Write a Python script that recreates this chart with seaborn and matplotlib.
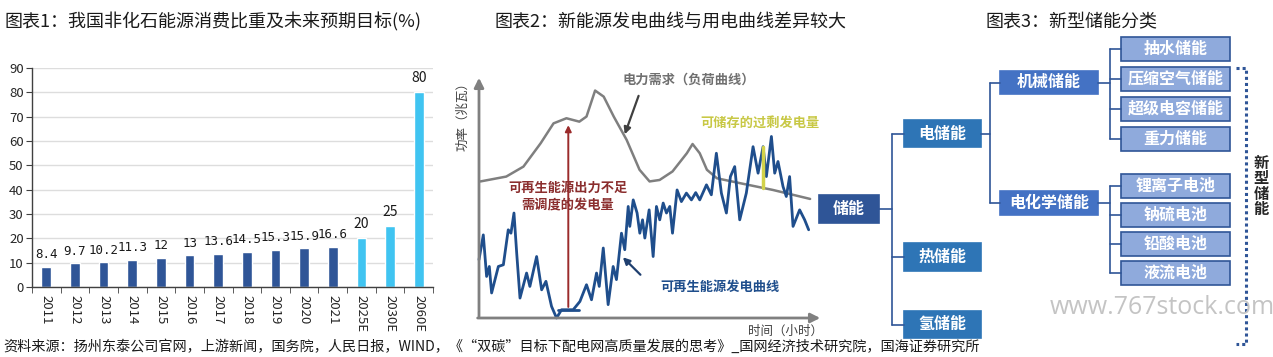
import numpy as np
import pandas as pd
import matplotlib.pyplot as plt
import seaborn as sns
from matplotlib.patches import Rectangle

# ---------------- data ----------------
# 图表1
years = ['2011', '2012', '2013', '2014', '2015', '2016', '2017', '2018', '2019',
         '2020', '2021', '2025E', '2030E', '2060E']
share = [8.4, 9.7, 10.2, 11.3, 12, 13, 13.6, 14.5, 15.3, 15.9, 16.6, 20, 25, 80]
kind = ['实际'] * 11 + ['目标'] * 3
share_labels = ['8.4', '9.7', '10.2', '11.3', '12', '13', '13.6', '14.5', '15.3',
                '15.9', '16.6', '20', '25', '80']

# 图表2 (示意图, 时间: 小时, 功率: 相对值)
demand_t = [0.1, 1.9, 3.1, 4.3, 5.2, 6.1, 7.0, 7.5, 8.1, 8.7, 9.4, 10.3, 11.2, 11.9,
            12.6, 13.5, 14.5, 14.9, 15.4, 15.9, 16.6, 18.2, 20.5, 23.1]
demand_p = [56.2, 58.2, 62.3, 71.9, 80.1, 82.2, 80.8, 82.9, 93.6, 91.1, 82.9, 73.3,
            61.0, 56.2, 56.8, 60.3, 67.8, 71.6, 67.8, 61.0, 57.5, 55.5, 52.7, 49.0]
renew_t = [0.0, 0.30, 0.53, 0.72, 0.88, 1.35, 1.70, 2.04, 2.23, 2.44, 2.63, 2.86, 3.32,
           3.55, 4.02, 4.37, 4.67, 5.06, 5.41, 5.76, 6.57, 7.04, 7.50, 7.85, 8.20, 8.39,
           8.67, 9.01, 9.36, 9.59, 9.94, 10.17, 10.41, 10.52, 10.76, 11.03, 11.22, 11.41,
           11.57, 11.87, 12.15, 12.38, 12.61, 12.85, 13.08, 13.31, 13.50, 13.82, 14.12,
           14.47, 14.82, 15.12, 15.40, 15.87, 16.21, 16.56, 16.91, 17.26, 17.54, 17.84,
           18.19, 18.65, 19.12, 19.47, 19.82, 20.05, 20.40, 20.63, 20.86, 21.21, 21.44,
           21.67, 21.91, 22.37, 22.72, 23.00]
renew_p = [24.0, 34.2, 17.1, 21.2, 10.3, 21.2, 21.9, 36.3, 34.9, 43.2, 26.7, 8.2, 18.5,
           13.0, 25.3, 11.6, 15.1, 4.8, 0.0, 3.4, 3.4, 6.8, 13.7, 7.5, 18.5, 13.0,
           28.8, 5.5, 21.2, 15.8, 34.9, 28.1, 45.9, 37.7, 48.6, 43.2, 34.9, 40.4,
           32.9, 44.5, 25.3, 45.9, 40.4, 47.3, 43.2, 45.9, 34.9, 52.7, 47.9,
           51.4, 48.6, 51.6, 48.6, 54.8, 50.7, 67.8, 51.4, 43.2, 58.2, 62.3,
           40.4, 51.4, 70.5, 59.6, 70.5, 58.2, 74.7, 59.6, 64.4, 54.1, 50.0,
           58.2, 37.7, 44.5, 40.4, 36.3]

# 图表3
root = '储能'
level1 = ['电储能', '热储能', '氢储能']
level2 = ['机械储能', '电化学储能']
mech_leaves = ['抽水储能', '压缩空气储能', '超级电容储能', '重力储能']
chem_leaves = ['锂离子电池', '钠硫电池', '铅酸电池', '液流电池']

# ---------------- style ----------------
sns.set_style('white')
plt.rcParams['font.family'] = ['Noto Sans CJK SC', 'DejaVu Sans']
plt.rcParams['axes.unicode_minus'] = False

W, H = 1273, 357
fig = plt.figure(figsize=(W / 100, H / 100), dpi=100)


def px_axes(x0, y0, x1, y1):
    # pixel box (top-left origin) -> figure axes
    return fig.add_axes([x0 / W, 1 - y1 / H, (x1 - x0) / W, (y1 - y0) / H])


# titles
fig.text(5 / W, 1 - 22 / H, '图表1：我国非化石能源消费比重及未来预期目标(%)', fontsize=13,
         va='center', ha='left', color='#1a1a1a')
fig.text(494 / W, 1 - 22 / H, '图表2：新能源发电曲线与用电曲线差异较大', fontsize=13,
         va='center', ha='left', color='#1a1a1a')
fig.text(985 / W, 1 - 22 / H, '图表3：新型储能分类', fontsize=13,
         va='center', ha='left', color='#1a1a1a')

# ---------------- chart 1 ----------------
ax1 = px_axes(32, 68, 433, 287)
df1 = pd.DataFrame({'year': years, 'share': share, 'kind': kind})
sns.barplot(data=df1, x='year', y='share', hue='kind', dodge=False, width=0.34,
            palette={'实际': '#2F5597', '目标': '#40C4F1'}, legend=False, ax=ax1,
            saturation=1)
ax1.set_ylim(0, 90)
ax1.set_xlim(-0.5, len(years) - 0.5)
ax1.set_yticks(range(0, 91, 10))
ax1.yaxis.grid(True, color='#DDDDDD', lw=1)
ax1.set_axisbelow(True)
ax1.set_xlabel('')
ax1.set_ylabel('')
for s in ['top', 'right']:
    ax1.spines[s].set_visible(False)
for s in ['left', 'bottom']:
    ax1.spines[s].set_color('#404040')
    ax1.spines[s].set_linewidth(1)
ax1.tick_params(axis='y', length=4, color='#404040', labelsize=9.5, pad=2, left=True)
ax1.tick_params(axis='x', length=0, labelsize=9.5, pad=6, labelrotation=270)
ax1.set_xticks(np.arange(-0.5, len(years), 1), minor=True)
ax1.tick_params(axis='x', which='minor', length=4, color='#404040', bottom=True)
for lab in ax1.get_xticklabels():
    lab.set_va('top')
    lab.set_ha('center')
for i, (v, t) in enumerate(zip(share, share_labels)):
    if kind[i] == '实际':
        ax1.annotate(t, (i, v), xytext=(0, 4), textcoords='offset points', ha='center',
                     va='bottom', fontsize=9, family='DejaVu Sans Mono', color='#1a1a1a')
    else:
        ax1.annotate(t, (i, v), xytext=(0, 5), textcoords='offset points', ha='center',
                     va='bottom', fontsize=10, color='#1a1a1a')

# ---------------- chart 2 ----------------
ax2 = px_axes(479, 75, 823, 318)
ax2.set_xlim(0, 24)
ax2.set_ylim(0, 100)
ax2.axis('off')
sns.lineplot(x=demand_t, y=demand_p, ax=ax2, color='#7F7F7F', lw=1.8, estimator=None,
             clip_on=False)
sns.lineplot(x=renew_t, y=renew_p, ax=ax2, color='#1F4E8C', lw=2.0, estimator=None,
             clip_on=False)
# axes arrows
ax2.annotate('', xy=(1.0, 0), xytext=(-0.012, 0), xycoords='axes fraction',
             arrowprops=dict(arrowstyle='-|>', color='#808080', lw=2, mutation_scale=14))
ax2.annotate('', xy=(0, 1.0), xytext=(0, -0.005), xycoords='axes fraction',
             arrowprops=dict(arrowstyle='-|>', color='#808080', lw=2, mutation_scale=14))
# red arrow: shortfall
ax2.annotate('', xy=(6.23, 80.5), xytext=(6.23, 3.4),
             arrowprops=dict(arrowstyle='-|>', color='#9B2B2B', lw=1.4, mutation_scale=9))
ax2.plot([5.5, 7.0], [3.4, 3.4], color='#1F4E8C', lw=2.0)
# yellow surplus line
ax2.plot([19.82, 19.82], [53.4, 70.5], color='#D2D24A', lw=2.5)
# pointer arrows
ax2.annotate('', xy=(10.1, 74.5), xytext=(11.2, 92.5),
             arrowprops=dict(arrowstyle='-|>', color='#404040', lw=1.6, mutation_scale=10))
ax2.annotate('', xy=(9.9, 25.8), xytext=(11.4, 17.0),
             arrowprops=dict(arrowstyle='-|>', color='#1F3F6F', lw=1.6, mutation_scale=10))
ax2.text(14.6, 98.0, '电力需求（负荷曲线）', fontsize=9.5, color='#707070', ha='center',
         va='center', weight='bold')
ax2.text(19.6, 80.1, '可储存的过剩发电量', fontsize=9.5, color='#C8C845', ha='center',
         va='center', weight='bold')
ax2.text(6.2, 50.0, '可再生能源出力不足\n需调度的发电量', fontsize=9.5, color='#8B2E2E',
         ha='center', va='center', weight='bold', linespacing=1.3)
ax2.text(16.8, 12.7, '可再生能源发电曲线', fontsize=9.5, color='#1F4E8C', ha='center',
         va='center', weight='bold')
ax2.text(-0.047, 0.84, '功率（兆瓦）', transform=ax2.transAxes, rotation=90, fontsize=9,
         color='#404040', ha='center', va='center')
ax2.text(0.89, -0.055, '时间（小时）', transform=ax2.transAxes, fontsize=9,
         color='#404040', ha='center', va='center')

# ---------------- chart 3 ----------------
ax3 = px_axes(800, 0, 1273, 357)
ax3.set_xlim(800, 1273)
ax3.set_ylim(357, 0)
ax3.axis('off')
line_c = '#2F5597'


def box(x0, x1, y0, y1, text, fc, ec=None):
    ax3.add_patch(Rectangle((x0, y0), x1 - x0, y1 - y0, facecolor=fc,
                            edgecolor=ec if ec else fc, lw=1.2))
    ax3.text((x0 + x1) / 2, (y0 + y1) / 2, text, color='white', fontsize=11.5,
             weight='bold', ha='center', va='center')


def link(xa, xm, xb, ya, ys):
    ax3.plot([xa, xm], [ya, ya], color=line_c, lw=1.2)
    ax3.plot([xm, xm], [min(ys), max(ys)], color=line_c, lw=1.2)
    for y in ys:
        ax3.plot([xm, xb], [y, y], color=line_c, lw=1.2)


# layout (pixels)
l1_y = [(120, 147), (243, 271), (311, 338)]
l2_y = [(71, 94), (191, 215)]
mech_y = [(37, 61), (67, 91), (97, 121), (127, 151)]
chem_y = [(174, 198), (203, 227), (232, 256), (261, 285)]

box(819, 879, 195, 223, root, '#2F5597')
for name, (a, b) in zip(level1, l1_y):
    box(904, 981, a, b, name, '#2E75B6')
for name, (a, b) in zip(level2, l2_y):
    box(1000, 1098, a, b, name, '#4472C4')
for name, (a, b) in zip(mech_leaves, mech_y):
    box(1121, 1230, a, b, name, '#8FAADC', '#2F5597')
for name, (a, b) in zip(chem_leaves, chem_y):
    box(1121, 1230, a, b, name, '#8FAADC', '#2F5597')

link(879, 892, 904, 209, [(a + b) / 2 for a, b in l1_y])
link(981, 990, 1000, 133.5, [(a + b) / 2 for a, b in l2_y])
link(1098, 1110, 1121, 82.5, [(a + b) / 2 for a, b in mech_y])
link(1098, 1110, 1121, 203, [(a + b) / 2 for a, b in chem_y])

# dotted bracket
ax3.plot([1236, 1246, 1246, 1236], [68, 68, 344, 344], color=line_c, lw=2.2, ls=(0, (1, 1)))
ax3.text(1261, 186, '新\n型\n储\n能', fontsize=11, weight='bold', color='#262626',
         ha='center', va='center', linespacing=0.95)

# watermark
fig.text(1050 / W, 1 - 308 / H, 'www.767stock.com', fontsize=18, color='#C4C4C4',
         family='Open Sans', ha='left', va='center')

# footer
fig.text(3 / W, 1 - 347 / H,
         '资料来源：扬州东泰公司官网，上游新闻，国务院，人民日报，WIND，《“双碳”目标下配电网高质量发展的思考》_国网经济技术研究院，国海证券研究所',
         fontsize=10.2, style='italic', color='#1a1a1a', ha='left', va='center')

fig.savefig('out.png', dpi=100)
